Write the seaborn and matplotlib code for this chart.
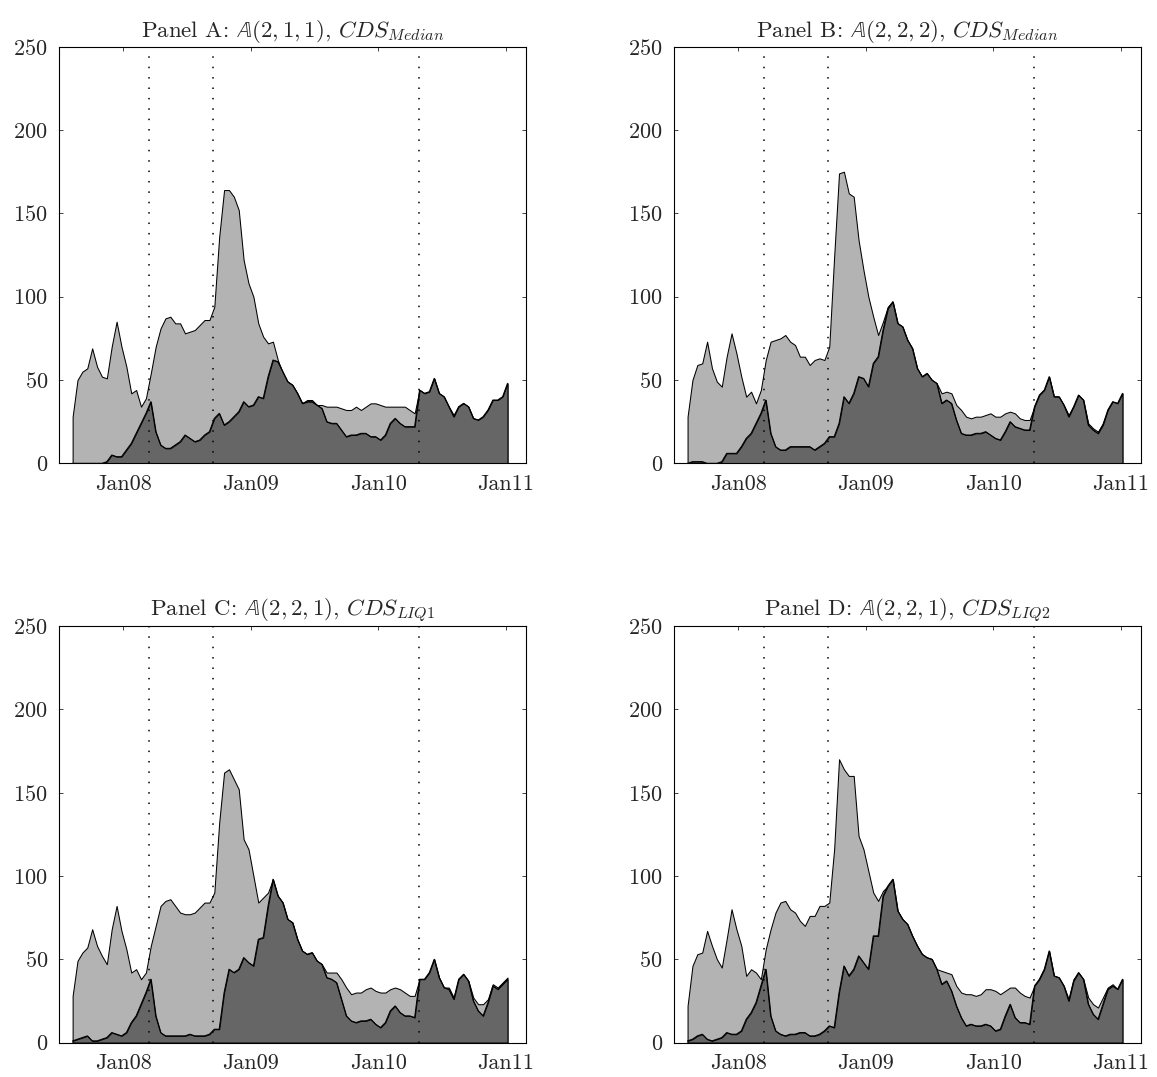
import matplotlib
matplotlib.use("Agg", force=True)
import matplotlib.pyplot as plt
import matplotlib.dates as mdates
import numpy as np
import pandas as pd
import seaborn as sns


# bi-weekly observation dates, Aug 2007 - Jan 2011
DATES = pd.date_range("2007-08-09", periods=90, freq="14D")
EVENTS = ["2008-03-16", "2008-09-15", "2010-04-27"]
TITLES = [
    r"Panel A: $\mathbb{A}(2,1,1)$, $CDS_{Median}$",
    r"Panel B: $\mathbb{A}(2,2,2)$, $CDS_{Median}$",
    r"Panel C: $\mathbb{A}(2,2,1)$, $CDS_{LIQ1}$",
    r"Panel D: $\mathbb{A}(2,2,1)$, $CDS_{LIQ2}$",
]

A_LIGHT = [28, 50, 55, 57, 69, 58, 52, 51, 70, 85, 70, 58, 42, 44, 34, 39, 54, 70, 81, 87,
           88, 84, 84, 78, 79, 80, 83, 86, 86, 94, 136, 164, 164, 160, 152, 122, 108, 100, 84, 76,
           72, 73, 62, 54, 49, 47, 42, 36, 38, 38, 35, 35, 34, 34, 34, 33, 32, 32, 34, 32,
           34, 36, 36, 35, 34, 34, 34, 34, 34, 32, 30, 44, 42, 43, 51, 42, 40, 34, 29, 34,
           36, 34, 27, 26, 28, 32, 38, 38, 40, 48]
A_DARK = [0, 0, 0, 0, 0, 0, 0, 1, 5, 4, 4, 8, 12, 18, 24, 30, 37, 19, 11, 9,
          9, 11, 13, 17, 15, 13, 14, 17, 19, 27, 30, 23, 25, 28, 31, 37, 34, 35, 40, 39,
          52, 62, 61, 55, 49, 47, 42, 36, 37, 37, 35, 33, 25, 24, 24, 20, 16, 17, 17, 18,
          18, 16, 16, 14, 17, 24, 27, 24, 22, 22, 22, 44, 42, 43, 51, 42, 40, 34, 28, 34,
          36, 34, 27, 26, 28, 32, 38, 38, 40, 48]

B_LIGHT = [28, 50, 59, 60, 73, 57, 49, 46, 64, 78, 66, 52, 40, 43, 36, 44, 62, 73, 74, 75,
           77, 73, 71, 64, 64, 59, 62, 63, 62, 70, 124, 174, 175, 162, 160, 134, 116, 100, 88, 77,
           85, 94, 97, 84, 82, 74, 69, 57, 52, 54, 50, 48, 42, 43, 42, 35, 32, 28, 27, 28,
           28, 29, 30, 28, 28, 30, 31, 30, 27, 26, 26, 34, 41, 44, 52, 40, 40, 35, 29, 34,
           41, 38, 24, 21, 19, 24, 32, 37, 36, 42]
B_DARK = [0, 1, 1, 1, 0, 0, 0, 1, 6, 6, 6, 10, 15, 18, 24, 30, 38, 18, 10, 8,
          8, 10, 10, 10, 10, 10, 8, 10, 12, 16, 16, 24, 40, 36, 42, 52, 51, 46, 60, 64,
          80, 93, 97, 84, 82, 74, 69, 57, 52, 54, 50, 48, 36, 38, 36, 26, 18, 17, 17, 18,
          18, 19, 17, 15, 14, 19, 25, 22, 21, 20, 20, 34, 41, 44, 52, 40, 40, 35, 28, 34,
          41, 38, 23, 20, 18, 23, 32, 37, 36, 42]

C_LIGHT = [28, 49, 54, 57, 68, 58, 52, 47, 68, 82, 67, 56, 42, 44, 38, 42, 58, 70, 82, 85,
           86, 82, 78, 77, 77, 78, 81, 84, 84, 90, 132, 162, 164, 158, 152, 122, 116, 100, 84, 87,
           90, 98, 88, 84, 74, 72, 62, 55, 53, 54, 49, 47, 42, 42, 42, 38, 33, 29, 30, 30,
           32, 33, 31, 30, 30, 32, 33, 32, 30, 28, 28, 38, 38, 42, 50, 39, 33, 33, 27, 38,
           41, 37, 27, 23, 23, 26, 35, 33, 36, 39]
C_DARK = [1, 2, 3, 4, 1, 1, 2, 3, 6, 5, 4, 6, 12, 16, 23, 30, 38, 16, 6, 4,
          4, 4, 4, 4, 5, 4, 4, 4, 5, 8, 8, 30, 44, 42, 44, 51, 48, 46, 62, 63,
          82, 98, 88, 84, 74, 72, 62, 55, 53, 54, 49, 47, 39, 38, 36, 26, 16, 13, 12, 13,
          13, 14, 11, 9, 12, 19, 22, 18, 16, 16, 15, 38, 38, 42, 50, 39, 33, 32, 26, 38,
          41, 37, 25, 19, 16, 24, 34, 32, 35, 38]

D_LIGHT = [22, 46, 53, 54, 67, 58, 50, 45, 62, 80, 68, 58, 40, 44, 42, 38, 56, 68, 78, 84,
           85, 80, 78, 73, 70, 76, 76, 82, 82, 84, 116, 170, 164, 160, 160, 124, 116, 103, 90, 85,
           91, 94, 98, 79, 74, 71, 64, 58, 53, 51, 50, 44, 43, 42, 41, 34, 30, 29, 29, 28,
           29, 32, 32, 31, 29, 31, 33, 33, 30, 28, 27, 34, 38, 44, 55, 40, 39, 34, 26, 38,
           42, 38, 27, 23, 21, 27, 33, 35, 32, 38]
D_DARK = [1, 2, 4, 5, 2, 1, 2, 3, 6, 5, 5, 7, 14, 18, 24, 34, 44, 16, 7, 5,
          4, 5, 5, 6, 6, 4, 4, 5, 7, 10, 9, 30, 46, 40, 44, 52, 48, 44, 64, 64,
          88, 94, 98, 79, 74, 71, 64, 58, 53, 51, 50, 44, 35, 37, 31, 22, 15, 10, 11, 10,
          10, 11, 10, 7, 8, 16, 23, 15, 12, 12, 11, 34, 38, 44, 55, 40, 39, 34, 25, 37,
          42, 38, 23, 17, 14, 23, 32, 34, 32, 38]

PANELS = [(A_LIGHT, A_DARK), (B_LIGHT, B_DARK), (C_LIGHT, C_DARK), (D_LIGHT, D_DARK)]
POSITIONS = [
    [0.0510, 0.5698, 0.4036, 0.3868],
    [0.5825, 0.5698, 0.4036, 0.3868],
    [0.0510, 0.0320, 0.4036, 0.3868],
    [0.5825, 0.0320, 0.4036, 0.3868],
]
LIGHT_GREY = "#b3b3b3"
DARK_GREY = "#666666"


def draw_panel(ax, light, dark, title):
    frame = pd.DataFrame({"date": DATES, "light": light, "dark": dark})
    ax.fill_between(frame["date"], 0, frame["light"], facecolor=LIGHT_GREY,
                    edgecolor="black", linewidth=0.75, zorder=1)
    ax.fill_between(frame["date"], 0, frame["dark"], facecolor=DARK_GREY,
                    edgecolor="black", linewidth=0.75, zorder=2)
    sns.lineplot(data=frame, x="date", y="dark", color="black", linewidth=0.75, ax=ax, zorder=3)
    for event in EVENTS:
        ax.axvline(pd.Timestamp(event), color="black", linewidth=1.1,
                   linestyle=(0, (1.0, 5.8)), zorder=4)

    ax.set_xlim(pd.Timestamp("2007-07-01"), pd.Timestamp("2011-02-28"))
    ax.set_ylim(0, 250)
    ax.set_yticks(np.arange(0, 251, 50))
    ax.xaxis.set_major_locator(mdates.YearLocator())
    ax.xaxis.set_major_formatter(mdates.DateFormatter("%b%y"))
    ax.set_xlabel("")
    ax.set_ylabel("")
    ax.tick_params(direction="in", top=True, right=True, length=3.2, width=0.6,
                   labelsize=16, pad=8)
    for spine in ax.spines.values():
        spine.set_visible(True)
        spine.set_linewidth(0.8)
        spine.set_color("black")
    ax.set_title(title, fontsize=16.5, pad=7)


sns.set_theme(style="ticks")
plt.rcParams.update({
    "font.family": "serif",
    "font.serif": ["cmr10", "DejaVu Serif"],
    "mathtext.fontset": "cm",
    "axes.formatter.use_mathtext": True,
    "axes.facecolor": "white",
    "figure.facecolor": "white",
})

fig = plt.figure(figsize=(11.57, 10.77), dpi=100)
for (light, dark), pos, title in zip(PANELS, POSITIONS, TITLES):
    ax = fig.add_axes(pos)
    draw_panel(ax, light, dark, title)

fig.savefig("out.png", dpi=100)
plt.close(fig)
